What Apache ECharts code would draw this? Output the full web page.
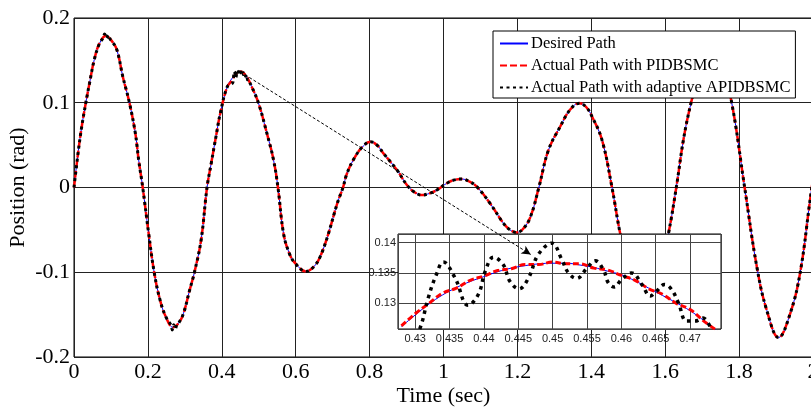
<!DOCTYPE html>
<html>
<head>
<meta charset="utf-8">
<script src="https://cdn.jsdelivr.net/npm/echarts@6/dist/echarts.min.js"></script>
<style>
html, body { margin: 0; padding: 0; background: #fff; }
#chart { width: 811px; height: 407px; }
</style>
</head>
<body>
<div id="chart"></div>
<script>
// main trace (sec, rad)
var timeData = [0, 0.012, 0.021, 0.032, 0.042, 0.055, 0.069, 0.087, 0.102, 0.116, 0.132, 0.150, 0.166, 0.175, 0.186,
    0.202, 0.217, 0.233, 0.249, 0.268, 0.283, 0.296, 0.313, 0.326, 0.344, 0.360, 0.372, 0.385, 0.396, 0.415, 0.432,
    0.450, 0.466, 0.481, 0.499, 0.522, 0.540, 0.552, 0.567, 0.583, 0.599, 0.628, 0.650, 0.666, 0.686, 0.713, 0.728,
    0.739, 0.761, 0.783, 0.802, 0.820, 0.838, 0.874, 0.901, 0.920, 0.941, 0.962, 0.982, 1.009, 1.030, 1.050, 1.070,
    1.090, 1.126, 1.162, 1.180, 1.198, 1.215, 1.235, 1.258, 1.284, 1.316, 1.343, 1.368, 1.386, 1.402, 1.429, 1.456,
    1.478, 1.500, 1.520, 1.543, 1.566, 1.588, 1.609, 1.630, 1.650, 1.670, 1.690, 1.705, 1.722, 1.740, 1.760, 1.780,
    1.815, 1.848, 1.875, 1.907, 1.938, 1.965, 1.992, 2.0];
var desiredPos = [0, 0.044, 0.072, 0.100, 0.123, 0.151, 0.170, 0.179, 0.173, 0.1625, 0.131, 0.100, 0.064, 0.0325, 0,
    -0.054, -0.100, -0.133, -0.153, -0.165, -0.160, -0.149, -0.121, -0.100, -0.062, 0, 0.030, 0.062, 0.0877, 0.119, 0.131,
    0.137, 0.131, 0.119, 0.100, 0.064, 0.0325, 0, -0.054, -0.078, -0.0896, -0.099, -0.093, -0.0818, -0.058, -0.018, 0,
    0.0168, 0.0364, 0.049, 0.054, 0.050, 0.040, 0.0207, 0.003, -0.005, -0.0089, -0.007, -0.003, 0.005, 0.009, 0.010, 0.007,
    0.001, -0.0187, -0.042, -0.050, -0.053, -0.049, -0.035, 0, 0.044, 0.072, 0.092, 0.0995, 0.095, 0.0837, 0.056, 0,
    -0.054, -0.095, -0.125, -0.140, -0.125, -0.095, -0.054, 0, 0.058, 0.100, 0.132, 0.148, 0.155, 0.148, 0.128, 0.100,
    0, -0.0936, -0.145, -0.177, -0.149, -0.101, -0.015, 0.010];

// chattering of the adaptive controller near the first two extrema
var apidPeakTime = [0.078, 0.083, 0.088, 0.093, 0.098, 0.262, 0.266, 0.270, 0.274, 0.279];
var apidPeakPos = [0.176, 0.181, 0.176, 0.180, 0.175, -0.162, -0.168, -0.162, -0.167, -0.161];

// zoomed window around t = 0.45 s
var insetTime = [0.428, 0.430, 0.432, 0.434, 0.436, 0.438, 0.440, 0.442, 0.444, 0.446, 0.448, 0.450,
    0.452, 0.454, 0.456, 0.458, 0.460, 0.462, 0.464, 0.466, 0.468, 0.470, 0.472, 0.474];
var insetDesired = [0.1262, 0.1281, 0.1299, 0.1314, 0.1326, 0.1336, 0.1344, 0.1352, 0.1358, 0.1362, 0.1365, 0.1366,
    0.1366, 0.1363, 0.1359, 0.1353, 0.1347, 0.1337, 0.1325, 0.1313, 0.1301, 0.1288, 0.1272, 0.1254];
var insetPid = [0.1263, 0.1283, 0.1300, 0.1317, 0.1325, 0.1338, 0.1345, 0.1354, 0.1357, 0.1364, 0.1364, 0.1368,
    0.1365, 0.1365, 0.1358, 0.1355, 0.1346, 0.1338, 0.1324, 0.1315, 0.1300, 0.1290, 0.1271, 0.1255];
var insetApidTime = [0.4295, 0.4307, 0.4319, 0.4330, 0.4341, 0.4358, 0.4377, 0.4392, 0.4402, 0.4414, 0.4428, 0.4438,
    0.4451, 0.4465, 0.4479, 0.4499, 0.4513, 0.4523, 0.4535, 0.4550, 0.4562, 0.4574, 0.4581, 0.4590, 0.4600, 0.4615,
    0.4630, 0.4642, 0.4651, 0.4663, 0.4673, 0.4683, 0.4695, 0.4707, 0.4719, 0.4729];
var insetApid = [0.1235, 0.1259, 0.1309, 0.1345, 0.1368, 0.1342, 0.1297, 0.1315, 0.1353, 0.1376, 0.1364, 0.1336,
    0.1324, 0.1342, 0.1380, 0.1399, 0.1373, 0.1350, 0.1341, 0.1358, 0.1370, 0.1355, 0.1334, 0.1327, 0.1339, 0.1350,
    0.1331, 0.1312, 0.1320, 0.1331, 0.1323, 0.1301, 0.1271, 0.1271, 0.1276, 0.1262];

var xTicks = [0, 2, 0.2];      // min, max, step
var yTicks = [-0.2, 0.2, 0.1];
var insetX = [0.4275, 0.4745];
var insetY = [0.1258, 0.1414];
var arrowFrom = [0.463, 0.133];
var arrowTo = [1.236, -0.079];

var names = ['Desired Path', 'Actual Path with PIDBSMC', 'Actual Path with adaptive APIDBSMC'];

function pairs(t, y) {
    return t.map(function (v, i) { return [v, y[i]]; });
}
// replace the base points inside the detail window by the detail points
function withDetail(base, detail) {
    var out = base.slice();
    detail.forEach(function (seg) {
        var lo = seg[0][0], hi = seg[seg.length - 1][0];
        out = out.filter(function (p) { return p[0] < lo || p[0] > hi; }).concat(seg);
    });
    return out.sort(function (a, b) { return a[0] - b[0]; });
}

var mainDesired = pairs(timeData, desiredPos);
var mainPid = withDetail(mainDesired, [pairs(insetTime, insetPid)]);
var apidPeaks = pairs(apidPeakTime, apidPeakPos);
var mainApid = withDetail(mainDesired, [apidPeaks.slice(0, 5), apidPeaks.slice(5), pairs(insetApidTime, insetApid)]);

var serif = 'Liberation Serif';
var sans = 'Liberation Sans';

var myChart = echarts.init(document.getElementById('chart'));
var option = {
    animation: false,
    backgroundColor: '#fff',
    legend: {
        data: names,
        orient: 'vertical',
        left: 493,
        top: 31,
        z: 20,
        padding: [4, 5, 2, 6],
        itemGap: 5,
        itemWidth: 28,
        itemHeight: 14,
        backgroundColor: '#fff',
        borderColor: '#000',
        borderWidth: 1,
        itemStyle: { color: 'transparent', borderWidth: 0, opacity: 0 },
        textStyle: { fontFamily: serif, fontSize: 16.5, color: '#000', padding: [0, 0, 0, -2] }
    },
    grid: [
        { left: 74, top: 18, width: 739, height: 339, outerBoundsMode: 'none', containLabel: false,
          show: true, backgroundColor: '#fff', borderColor: '#000', borderWidth: 1 },
        { left: 398, top: 234, width: 323, height: 95, outerBoundsMode: 'none', containLabel: false,
          show: true, z: 10, backgroundColor: '#fff', borderColor: '#000', borderWidth: 1 }
    ],
    xAxis: [
        {
            type: 'value', gridIndex: 0, min: xTicks[0], max: xTicks[1], interval: xTicks[2],
            name: 'Time (sec)', nameLocation: 'middle', nameGap: 28, nameMoveOverlap: false,
            nameTextStyle: { fontFamily: serif, fontSize: 22, color: '#000' },
            axisLine: { show: false }, axisTick: { show: false },
            axisLabel: { fontFamily: serif, fontSize: 22, color: '#000', margin: 4, hideOverlap: false },
            splitLine: { lineStyle: { color: '#222', width: 1 } }
        },
        {
            type: 'value', gridIndex: 1, min: insetX[0], max: insetX[1], splitNumber: 9, z: 11,
            axisLine: { show: false }, axisTick: { show: false },
            axisLabel: { fontFamily: sans, fontSize: 11, color: '#222', margin: 4, showMinLabel: false, showMaxLabel: false },
            splitLine: { lineStyle: { color: '#444', width: 1 } }
        }
    ],
    yAxis: [
        {
            type: 'value', gridIndex: 0, min: yTicks[0], max: yTicks[1], interval: yTicks[2],
            name: 'Position (rad)', nameLocation: 'middle', nameGap: 45, nameMoveOverlap: false,
            nameTextStyle: { fontFamily: serif, fontSize: 22, color: '#000' },
            axisLine: { show: false }, axisTick: { show: false },
            axisLabel: { fontFamily: serif, fontSize: 22, color: '#000', margin: 4 },
            splitLine: { lineStyle: { color: '#222', width: 1 } }
        },
        {
            type: 'value', gridIndex: 1, min: insetY[0], max: insetY[1], splitNumber: 3, z: 11,
            axisLine: { show: false }, axisTick: { show: false },
            axisLabel: { fontFamily: sans, fontSize: 11, color: '#222', margin: 2, showMinLabel: false, showMaxLabel: false },
            splitLine: { lineStyle: { color: '#444', width: 1 } }
        }
    ],
    series: [
        {
            name: names[0], type: 'line', xAxisIndex: 0, yAxisIndex: 0, z: 2,
            data: mainDesired, smooth: 0.4, showSymbol: false, symbol: 'none',
            lineStyle: { color: '#0000ff', width: 1 }, itemStyle: { color: '#0000ff' }
        },
        {
            name: names[1], type: 'line', xAxisIndex: 0, yAxisIndex: 0, z: 3,
            data: mainPid, smooth: 0.4, showSymbol: false, symbol: 'none',
            lineStyle: { color: '#ff0000', width: 2.5, type: [7, 3] }, itemStyle: { color: '#ff0000' }
        },
        {
            name: names[2], type: 'line', xAxisIndex: 0, yAxisIndex: 0, z: 4,
            data: mainApid, smooth: 0.4, showSymbol: false, symbol: 'none',
            lineStyle: { color: '#000', width: 3, type: [3, 3.5] }, itemStyle: { color: '#000' }
        },
        // inset
        {
            name: names[0], type: 'line', xAxisIndex: 1, yAxisIndex: 1, z: 12,
            data: pairs(insetTime, insetDesired), smooth: 0.4, showSymbol: false, symbol: 'none',
            lineStyle: { color: '#0000ff', width: 1 }
        },
        {
            name: names[1], type: 'line', xAxisIndex: 1, yAxisIndex: 1, z: 13,
            data: pairs(insetTime, insetPid), smooth: 0.4, showSymbol: false, symbol: 'none',
            lineStyle: { color: '#ff0000', width: 3, type: [6, 3] }
        },
        {
            name: names[2], type: 'line', xAxisIndex: 1, yAxisIndex: 1, z: 14,
            data: pairs(insetApidTime, insetApid), smooth: 0.4, showSymbol: false, symbol: 'none',
            lineStyle: { color: '#000', width: 3.5, type: [3.5, 4.5] }
        },
        // arrow from the main peak to the inset
        {
            type: 'line', xAxisIndex: 0, yAxisIndex: 0, data: [], silent: true,
            markLine: {
                z: 30, silent: true, animation: false,
                symbol: ['none', 'arrow'], symbolSize: [7, 9],
                label: { show: false },
                lineStyle: { color: '#000', width: 1, type: [3, 2] },
                data: [[{ coord: arrowFrom }, { coord: arrowTo }]]
            }
        }
    ]
};
myChart.setOption(option);
</script>
</body>
</html>
